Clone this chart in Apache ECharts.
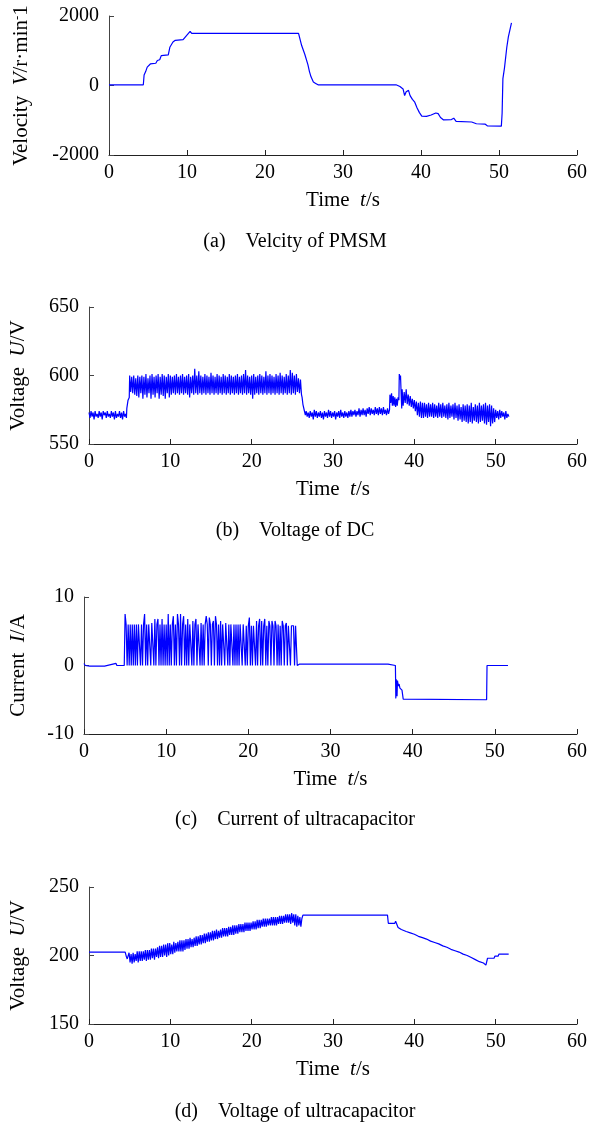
<!DOCTYPE html>
<html><head><meta charset="utf-8">
<script src="https://cdn.jsdelivr.net/npm/echarts@6/dist/echarts.min.js"></script>
<style>html,body{margin:0;padding:0;background:#fff}#c{width:590px;height:1123px}</style>
</head><body><div id="c"></div>
<script>
// ---------- (a) Velocity of PMSM ----------
const velT = [0,4.4,4.5,4.7,4.9,5.1,5.3,6.0,6.2,6.5,6.7,7.6,7.8,8.2,8.5,9.5,9.8,10.1,10.4,10.6,24.3,24.5,24.7,24.9,25.1,25.3,25.5,25.7,25.9,26.2,26.5,26.7,26.8,36.8,37.3,37.7,37.9,38.1,38.4,38.6,38.9,39.2,39.5,39.8,40.1,40.7,41.3,41.9,42.2,42.5,42.9,43.9,44.2,44.5,46.5,47.1,48.2,48.5,50.3,50.4,50.5,50.7,51.0,51.2,51.4,51.6];
const velV = [20,20,300,400,530,580,620,640,720,740,860,880,1100,1250,1300,1320,1400,1480,1560,1500,1500,1450,1150,1100,900,850,600,400,250,100,60,60,20,20,-30,-100,-290,-180,-140,-290,-400,-480,-650,-780,-880,-890,-850,-790,-810,-920,-990,-980,-940,-1030,-1050,-1100,-1110,-1160,-1170,-800,200,500,1100,1400,1600,1800];

// ---------- (b) Voltage of DC ----------
const dcStep = 0.125;
const dcBand1Start = 0;
const dcBand1 = [573,569,574,570,573,568,574,570,572,569,574,570,573,568,574,571,573,569,574,570,572,569,574,570,573,568,574,569,572,570,574,569,573,568,574,570,572];
const dcRiseT = [4.6,4.65,4.8,4.95];
const dcRiseV = [569,576,582,584];
const dcBand2Start = 5.0;
const dcBand2 = [
600,588,599,587,600,586,598,585,
600,584,599,587,600,583,599,586,
601,584,598,587,600,583,601,586,
599,584,600,587,601,583,599,586,
601,585,600,583,599,587,601,584,
600,586,599,587,600,586,601,587,
599,586,600,587,601,586,599,587,
600,586,601,584,599,587,600,586,
605,587,600,586,603,587,600,586,
599,587,601,586,600,587,599,586,
602,587,600,586,599,587,601,586,
600,587,599,586,601,587,600,586,
599,587,601,586,600,587,599,586,
600,587,601,586,599,587,600,586,
601,587,604,586,600,587,599,586,
600,583,601,586,599,587,600,586,
601,587,600,586,599,587,603,586,
600,587,601,586,600,587,599,586,
601,587,600,586,602,587,600,586,
599,587,601,586,600,587,604,586,
602,587,600,586,601,588,598,587,
597,586];
const dcDropT = [26.2,26.3,26.45,26.6];
const dcDropV = [584,579,575,571];
const dcBand3Start = 26.7;
const dcBand3 = [
574,570,573,569,574,570,573,568,
575,570,574,569,573,570,574,569,
573,568,574,570,573,569,575,570,
574,569,573,570,574,568,573,570,
574,569,575,570,573,569,574,570,
573,569,574,570,575,570,574,571,
575,570,574,571,576,570,575,571,
576,571,575,570,576,572,577,571,
576,572,575,571,577,572,576,571,
577,572,576,571,577,572,575,571,
576,572,575];
const dcPeakT = [37.0,37.1,37.2,37.3,37.4,37.5,37.6,37.7,37.8,37.9,38.0,38.1,38.15,38.25,38.3,38.4,38.45];
const dcPeakV = [586,580,587,578,585,578,584,577,583,578,584,582,601,597,600,583,576];
const dcBand4Start = 38.5;
const dcBand4 = [590,578,588,580,590,579,586,578,585,577,583,576,582,574,581,571,580,570,581,569,580];
const dcBand5Start = 41.125;
const dcBand5 = [
569,580,570,579,569,580,570,579,
570,580,569,579,570,578,569,580,
570,579,569,580,570,578,569,579,
568,580,569,578,570,579,568,580,
569,578,567,579,568,577,566,579,
567,578,566,579,565,578,566,580,
565,577,567,579,566,578,565,580,
566,578,567,579,565,580,564,578,
566,579,563,578,565,576,566,575,
569,574,568,575,569,574,570,573,
568,574,569,572,570];

// ---------- (c) Current of ultracapacitor ----------
const curPreT = [0,0.15,0.7,0.8,2.5,2.6,3.9,4.0,4.9];
const curPreV = [0.3,0,-0.1,0,-0.1,0,0.3,0,0];
const curStep = 0.125;
const curBandStart = 5.0;
const curBand = [
7.5,6,0,6,0,6,0,6,
0,6,0,6,0,6,6,0,
6,0,6,7.5,0,6,0,6,
6,0,6.2,6,0,6.8,0,6,
6.8,0,6,0,6.8,0,6,0,
6,0,7.5,0,6,0,6,7.2,
0,6,0,7.5,6,0,7.5,0,
6,7.2,0,6,0,6.8,0,6,
6,0,6.5,0,6,6.8,0,6,
6,0,6.2,0,6,0,6,7.2,
6,0,7,6,0,6,6.5,0,
7.2,6,0,6,0,6.5,0,6,
6,0,6.2,6,0,6,0,6,
6.2,0,6,0,6,0,6,0,
6,5.8,0,6,5.8,0,5.8,0,
5.8,7,0,5.8,0,5.8,5.8,0,
6.5,0,5.8,6.8,0,6.5,0,5.8,
6.8,0,5.8,0,6.5,5.8,0,6.5,
5.8,0,6.5,5.8,0,6,0,5.8,
0,6.5,5.8,0,5.8,6.2,0,5.8,
5.8,0,5.8,6,5.8,0,5.8,5.8];
const curPostT = [25.95,26.2,37.0,37.1,37.9,37.95,38.0,38.1,38.15,38.25,38.35,38.45,38.55,38.7,38.85,39.0,49.0,49.05,51.6];
const curPostV = [0,0.2,0.2,0,0,-4.8,-2,-4.5,-2.2,-3.0,-2.7,-3.3,-3.1,-3.6,-4.9,-5,-5,0,0];

// ---------- (d) Voltage of ultracapacitor ----------
const ucPreT = [0,4.45,4.6,4.7];
const ucPreV = [202.5,202.5,199,197.5];
const ucStep = 0.125;
const ucBandStart = 4.8;
const ucBand = [
197,202,195,201,194,202,195,201,
196,203,195,203,196,203,196,203,
197,204,196,204,197,204,197,205,
198,205,197,205,199,206,198,207,
199,207,199,208,200,208,199,209,
200,209,201,208,201,210,202,209,
203,210,203,211,203,211,203,211,
204,212,205,212,205,213,206,212,
206,213,207,214,207,214,208,215,
208,215,209,216,209,216,210,217,
210,217,211,218,211,218,212,219,
212,218,213,219,213,220,214,220,
214,220,214,221,215,221,215,222,
215,222,216,222,216,223,217,223,
217,223,217,224,218,224,218,224,
218,224,219,225,219,225,219,226,
220,226,220,226,221,227,221,227,
221,227,222,227,222,228,222,228,
222,228,222,228,223,229,223,229,
223,229,224,230,224,230,224,230,
223,231,224,230,222,230,221,229,
222,228,221,227];
const ucPostT = [26.3,34.0,34.1,34.2,36.7,36.8,37.6,37.7,37.9,38.0,38.4,39.0,39.5,40.0,40.5,41.0,41.5,42.0,42.5,43.0,43.5,44.0,44.5,45.0,45.5,46.0,46.5,47.0,47.5,48.0,48.5,48.8,48.95,49.0,49.8,49.9,50.3,50.4,51.6];
const ucPostV = [229.5,229.5,228.5,229.5,229.5,223.5,223.5,225,224,220.5,219,217.5,216.5,215.5,214,213,212,210.5,209.5,208.5,207,206,204.5,203.5,202.5,201,200,198.5,197,195.5,194.5,193,193,198,198,199.5,199.5,201,201];

// ---------- text ----------
const xTicks = [0,10,20,30,40,50,60];
const yRanges = [[-2000,2000,2000],[550,650,50],[-10,10,10],[150,250,50]];
const yNames = ['Velocity  {i|V}/r·min{sup|-}1','Voltage  {i|U}/V','Current  {i|I}/A','Voltage  {i|U}/V'];
const xName = 'Time  {i|t}/s';
const captions = ['(a)    Velcity of PMSM','(b)    Voltage of DC','(c)    Current of ultracapacitor','(d)    Voltage of ultracapacitor'];

// ---------- build ----------
function pairs(ts, vs){ return ts.map((t,i)=>[t, vs[i]]); }
function grid(t0, dt, vs){ return vs.map((v,i)=>[+(t0+i*dt).toFixed(4), v]); }

const seriesData = [
  pairs(velT, velV),
  [].concat(grid(dcBand1Start,dcStep,dcBand1), pairs(dcRiseT,dcRiseV), grid(dcBand2Start,dcStep,dcBand2),
            pairs(dcDropT,dcDropV), grid(dcBand3Start,dcStep,dcBand3), pairs(dcPeakT,dcPeakV),
            grid(dcBand4Start,dcStep,dcBand4), grid(dcBand5Start,dcStep,dcBand5)),
  [].concat(pairs(curPreT,curPreV), grid(curBandStart,curStep,curBand), pairs(curPostT,curPostV)),
  [].concat(pairs(ucPreT,ucPreV), grid(ucBandStart,ucStep,ucBand), pairs(ucPostT,ucPostV))
];

const FONT = '"Liberation Serif","Times New Roman",serif';
const layout = [
  {left:109, top:16, width:468, height:139, nameGap:77, capTop:232},
  {left:86, top:307, width:491, height:137, nameGap:60, capTop:521},
  {left:82, top:597, width:495, height:137, nameGap:55, capTop:810},
  {left:86, top:887, width:491, height:137, nameGap:60, capTop:1102}
];
const rich = {
  i:{fontFamily:FONT, fontSize:21, fontStyle:'italic', color:'#000'},
  sup:{fontFamily:FONT, fontSize:13, color:'#000', verticalAlign:'top', lineHeight:12}
};

const option = {
  animation:false,
  backgroundColor:'#fff',
  title: captions.map((c,i)=>({text:c, left:'center', top:layout[i].capTop, padding:0,
    textStyle:{fontFamily:FONT, fontSize:20, fontWeight:'normal', color:'#000'}})),
  grid: layout.map(l=>({left:l.left, top:l.top, width:l.width, height:l.height, containLabel:false})),
  xAxis: layout.map((l,i)=>({
    gridIndex:i, type:'value', min:xTicks[0], max:xTicks[xTicks.length-1], interval:xTicks[1]-xTicks[0],
    name:xName, nameLocation:'middle', nameGap:35,
    nameTextStyle:{fontFamily:FONT, fontSize:21, color:'#000', rich},
    axisLine:{show:true, onZero:false, lineStyle:{color:'#222', width:1}},
    axisTick:{show:true, inside:true, length:5, lineStyle:{color:'#222'}},
    axisLabel:{fontFamily:FONT, fontSize:20, color:'#000', margin:8, formatter:v=>String(v)},
    splitLine:{show:false}
  })),
  yAxis: layout.map((l,i)=>({
    gridIndex:i, type:'value', min:yRanges[i][0], max:yRanges[i][1], interval:yRanges[i][2],
    name:yNames[i], nameLocation:'middle', nameGap:l.nameGap,
    nameTextStyle:{fontFamily:FONT, fontSize:21, color:'#000', rich},
    axisLine:{show:true, onZero:false, lineStyle:{color:'#444', width:1}},
    axisTick:{show:true, inside:true, length:5, lineStyle:{color:'#444'}},
    axisLabel:{fontFamily:FONT, fontSize:20, color:'#000', margin:10, formatter:v=>String(v)},
    splitLine:{show:false}
  })),
  series: seriesData.map((d,i)=>({
    type:'line', xAxisIndex:i, yAxisIndex:i, data:d, showSymbol:false, symbol:'none',
    lineStyle:{color:'#0000ff', width:1.2}, itemStyle:{color:'#0000ff'}, silent:true
  }))
};
const chart = echarts.init(document.getElementById('c'), null, {renderer:'canvas'});
chart.setOption(option);
</script></body></html>
